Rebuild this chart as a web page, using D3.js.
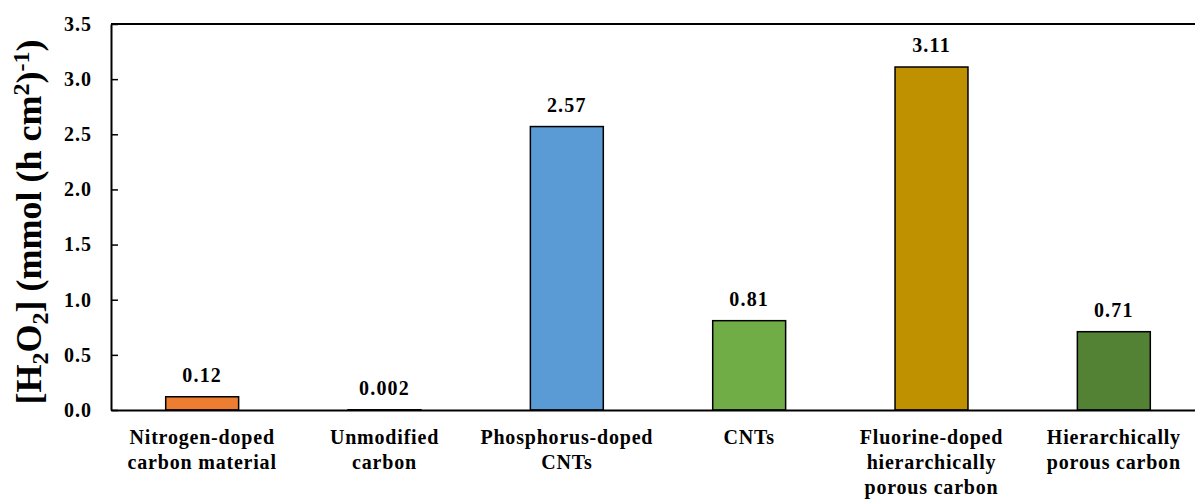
<!DOCTYPE html>
<html>
<head>
<meta charset="utf-8">
<script src="https://cdn.jsdelivr.net/npm/d3@7"></script>
<style>
html,body{margin:0;padding:0;background:#fff;}
svg{display:block;}
svg text{font-family:"Liberation Serif","Tinos","Times New Roman","DejaVu Serif",serif !important;font-weight:bold;fill:#000;}
</style>
</head>
<body>
<svg id="chart" width="1195" height="500"></svg>
<script>
const categories = [
  ["Nitrogen-doped", "carbon material"],
  ["Unmodified", "carbon"],
  ["Phosphorus-doped", "CNTs"],
  ["CNTs"],
  ["Fluorine-doped", "hierarchically", "porous carbon"],
  ["Hierarchically", "porous carbon"]
];
const values = [0.12, 0.002, 2.57, 0.81, 3.11, 0.71];
const valueLabels = ["0.12", "0.002", "2.57", "0.81", "3.11", "0.71"];
const colors = ["#ED7D31", "#1f1f1f", "#5B9BD5", "#70AD47", "#BF9000", "#548235"];
const yTicks = [0, 0.5, 1.0, 1.5, 2.0, 2.5, 3.0, 3.5];

const FONT = "'Liberation Serif', 'Times New Roman', serif";
const svg = d3.select("#chart");
const mLeft = 111, mTop = 24, mBottom = 410, rightExt = 1205;

const x = d3.scaleBand().domain(d3.range(values.length)).range([mLeft, rightExt])
  .paddingInner(0.6).paddingOuter(0.3);
const y = d3.scaleLinear().domain([0, 3.5]).range([mBottom, mTop]);

// bars
svg.append("g").selectAll("rect").data(values).join("rect")
  .attr("x", (d, i) => x(i))
  .attr("y", d => y(d))
  .attr("width", x.bandwidth())
  .attr("height", d => Math.max(0, y(0) - y(d)))
  .attr("fill", (d, i) => colors[i])
  .attr("stroke", "#000").attr("stroke-width", 1.5);

// value labels
svg.append("g").selectAll("text").data(values).join("text")
  .attr("x", (d, i) => x(i) + x.bandwidth() / 2)
  .attr("y", d => y(d) - 15)
  .attr("text-anchor", "middle")
  .attr("font-family", FONT)
  .style("font-size", "20px")
  .style("letter-spacing", "1.2px")
  .text((d, i) => valueLabels[i]);

// y axis
const yAxis = d3.axisLeft(y).tickValues(yTicks).tickFormat(d3.format(".1f"))
  .tickSizeInner(-7).tickSizeOuter(0).tickPadding(19);
const gy = svg.append("g").attr("transform", `translate(${mLeft},0)`).call(yAxis)
  .attr("font-family", FONT);
gy.select(".domain").attr("stroke", "#000").attr("stroke-width", 2);
gy.selectAll(".tick line").attr("stroke", "#000").attr("stroke-width", 1.5);
gy.selectAll(".tick text").style("font-size", "20px").style("letter-spacing", "1px");

// top frame line
svg.append("line").attr("x1", mLeft).attr("x2", 1195).attr("y1", mTop).attr("y2", mTop)
  .attr("stroke", "#000").attr("stroke-width", 2);

// x axis
const xAxis = d3.axisBottom(x).tickSize(0).tickFormat("");
const gx = svg.append("g").attr("transform", `translate(0,${mBottom})`).call(xAxis);
gx.select(".domain").attr("stroke", "#000").attr("stroke-width", 2);

// category labels
const cat = svg.append("g").selectAll("text").data(categories).join("text")
  .attr("text-anchor", "middle")
  .attr("font-family", FONT)
  .style("font-size", "20px")
  .style("letter-spacing", "0.8px")
  .attr("transform", (d, i) => `translate(${x(i) + x.bandwidth() / 2},${mBottom + 34})`);
cat.selectAll("tspan").data(d => d).join("tspan")
  .attr("x", 0).attr("dy", (d, j) => j === 0 ? 0 : 25).text(d => d);

// y axis title
const yt = svg.append("text")
  .attr("transform", "translate(41,222) rotate(-90)")
  .attr("text-anchor", "middle")
  .attr("font-family", FONT)
  .style("font-size", "36px");
yt.append("tspan").text("[H");
yt.append("tspan").attr("dy", 7).style("font-size", "24px").text("2");
yt.append("tspan").attr("dy", -7).text("O");
yt.append("tspan").attr("dy", 7).style("font-size", "24px").text("2");
yt.append("tspan").attr("dy", -7).text("] (mmol (h cm");
yt.append("tspan").attr("dy", -12).style("font-size", "24px").text("2");
yt.append("tspan").attr("dy", 12).text(")");
yt.append("tspan").attr("dy", -12).style("font-size", "24px").text("-1");
yt.append("tspan").attr("dy", 12).text(")");
</script>
</body>
</html>
